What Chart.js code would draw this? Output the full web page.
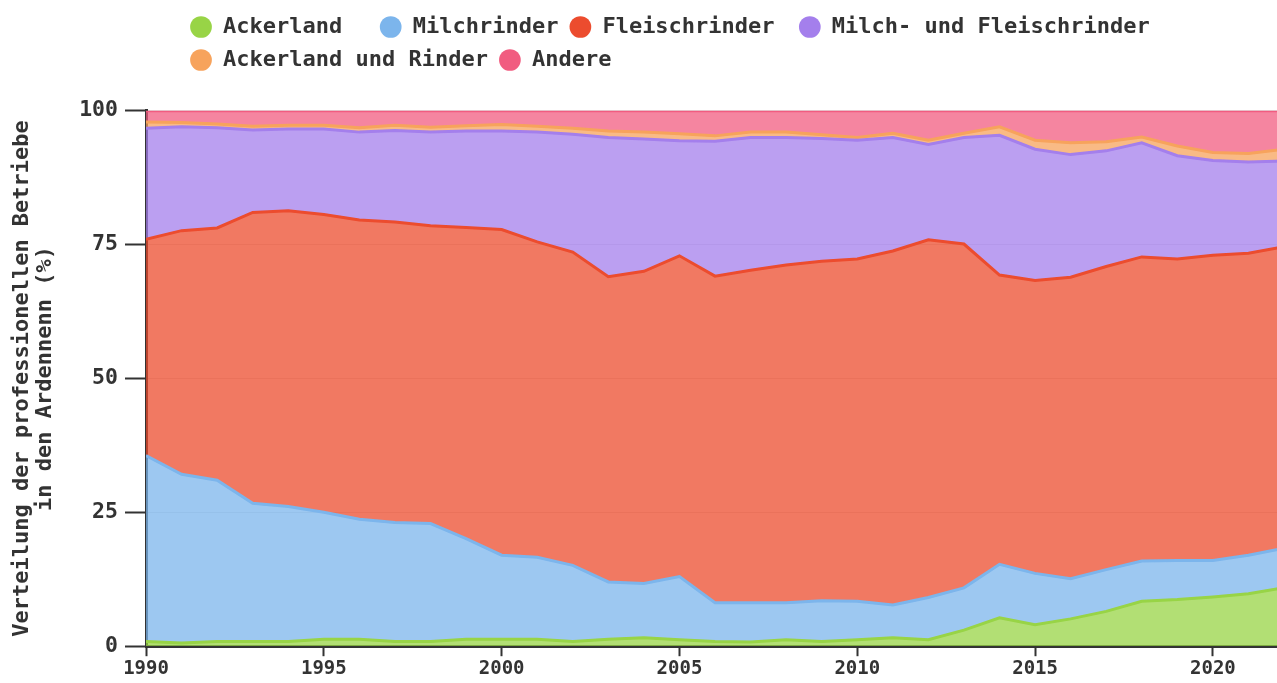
<!DOCTYPE html>
<html><head><meta charset="utf-8">
<script src="https://cdn.jsdelivr.net/npm/chart.js@4.4.1/dist/chart.umd.min.js"></script>
<style>
html,body{margin:0;padding:0;width:1277px;height:683px;overflow:hidden;background:#fff;}
#wrap{position:absolute;left:0;top:0;width:1290px;height:683px;}
</style></head><body>
<div id="wrap"><canvas id="c"></canvas></div>
<script>
const years = [1990,1991,1992,1993,1994,1995,1996,1997,1998,1999,2000,2001,2002,2003,2004,2005,2006,2007,2008,2009,2010,2011,2012,2013,2014,2015,2016,2017,2018,2019,2020,2021,2022];
const xTickLabels = ['1990','1995','2000','2005','2010','2015','2020'];
const yTickLabels = ['0','25','50','75','100'];
const seriesNames = ['Ackerland','Milchrinder','Fleischrinder','Milch- und Fleischrinder','Ackerland und Rinder','Andere'];
const yTitle = ['Verteilung der professionellen Betriebe','in den Ardennenn (%)'];

const ackerland = [0.9,0.6,0.9,0.9,0.9,1.3,1.3,0.9,0.9,1.3,1.3,1.3,0.9,1.3,1.6,1.2,0.9,0.8,1.2,0.9,1.2,1.6,1.2,3.0,5.3,4.0,5.1,6.5,8.4,8.7,9.2,9.8,10.9];
const milchrinder = [34.7,31.5,30.1,25.8,25.2,23.7,22.4,22.2,22.0,18.8,15.7,15.3,14.2,10.7,10.1,11.8,7.2,7.3,6.9,7.6,7.2,6.1,7.9,7.9,10.0,9.6,7.5,7.8,7.5,7.3,6.8,7.2,7.4];
const fleischrinder = [40.4,45.5,47.1,54.3,55.2,55.6,55.9,56.1,55.6,58.1,60.8,58.9,58.5,57.0,58.3,59.9,61.0,62.1,63.1,63.4,63.9,66.1,66.8,64.2,54.0,54.7,56.3,56.6,56.8,56.3,57.0,56.4,56.3];
const milchFleisch = [20.7,19.4,18.7,15.4,15.3,16.0,16.4,17.1,17.5,18.0,18.4,20.5,22.0,26.0,24.7,21.5,25.2,24.8,23.8,22.9,22.2,21.2,17.8,19.9,26.1,24.5,22.9,21.6,21.3,19.3,17.7,17.0,16.0];
const ackerlandRinder = [1.2,0.8,0.7,0.7,0.7,0.7,0.8,1.0,0.9,1.0,1.2,1.1,1.1,1.2,1.3,1.3,1.0,1.0,1.0,0.7,0.5,0.8,0.8,0.8,1.6,1.7,2.2,1.7,1.1,1.8,1.5,1.6,2.2];
const andere = [2.1,2.2,2.5,2.9,2.7,2.7,3.2,2.7,3.1,2.8,2.6,2.9,3.3,3.8,4.0,4.3,4.7,4.0,4.0,4.5,5.0,4.2,5.5,4.2,3.0,5.5,6.0,5.8,4.9,6.6,7.8,8.0,7.2];

const seriesValues = [ackerland, milchrinder, fleischrinder, milchFleisch, ackerlandRinder, andere];

// styling
const lineColors = ['#98d446','#7cb5ec','#ec4c2e','#a47fec','#f7a35c','#f15c80'];
function alpha(hex, a){
  const n = parseInt(hex.slice(1),16);
  return `rgba(${(n>>16)&255},${(n>>8)&255},${n&255},${a})`;
}
const legendPad = ['  ','',' ','','',''];
const FONT = "'DejaVu Sans Mono', monospace";
Chart.defaults.font.family = FONT;
Chart.defaults.font.weight = 'bold';
Chart.defaults.color = '#333';

const legendPlacement = {
  id: 'legendPlacement',
  beforeInit(chart){
    const lg = chart.legend;
    const orig = lg.fit;
    lg.fit = function(){ orig.call(this); this.height = 105.7; };
  },
  afterLayout(chart){ chart.legend.left = 179; }
};

new Chart(document.getElementById('c'), {
  type: 'line',
  data: {
    labels: years,
    datasets: seriesNames.map((name, i) => ({
      label: name,
      data: seriesValues[i],
      borderColor: lineColors[i],
      backgroundColor: alpha(lineColors[i], 0.75),
      borderWidth: 3,
      fill: i === 0 ? 'origin' : '-1',
      pointRadius: 0,
      pointHoverRadius: 0,
      tension: 0
    }))
  },
  plugins: [legendPlacement],
  options: {
    responsive: true,
    maintainAspectRatio: false,
    animation: false,
    layout: { padding: { top: 5, bottom: 2, left: 0, right: 6 } },
    plugins: {
      tooltip: { enabled: false },
      legend: {
        position: 'top',
        align: 'start',
        labels: {
          usePointStyle: true,
          boxWidth: 22,
          boxHeight: 15.35,
          padding: 11,
          color: '#333',
          font: { size: 22, weight: 'bold', family: FONT },
          generateLabels(chart){
            return chart.data.datasets.map((ds, i) => ({
              text: ds.label + legendPad[i],
              fillStyle: ds.borderColor,
              strokeStyle: ds.borderColor,
              lineWidth: 0,
              pointStyle: 'circle',
              fontColor: '#333',
              hidden: !chart.isDatasetVisible(i),
              datasetIndex: i
            }));
          }
        }
      }
    },
    scales: {
      x: {
        type: 'linear',
        min: years[0],
        max: years[years.length - 1],
        grid: { drawOnChartArea: false, tickColor: '#333', tickLength: 10, tickWidth: 2 },
        border: { color: '#333', width: 3 },
        ticks: {
          stepSize: 5,
          includeBounds: false,
          padding: 1,
          maxRotation: 0,
          color: '#333',
          font: { size: 19, weight: 'bold', family: FONT },
          callback: v => xTickLabels.find(l => +l === v) ?? ''
        }
      },
      y: {
        stacked: true,
        min: 0,
        max: 100,
        grid: { color: '#e3e3e3', tickColor: '#333', tickLength: 21, tickWidth: 2, lineWidth: 1 },
        border: { color: '#333', width: 3 },
        ticks: {
          stepSize: 25,
          padding: 7,
          color: '#333',
          font: { size: 21.5, weight: 'bold', family: FONT },
          callback: v => yTickLabels.find(l => +l === v) ?? ''
        },
        title: {
          display: true,
          text: yTitle,
          color: '#333',
          font: { size: 22, weight: 'bold', family: FONT, lineHeight: 1.045 },
          padding: { top: 10.5, bottom: 15.7 }
        }
      }
    }
  }
});
</script>
</body></html>
